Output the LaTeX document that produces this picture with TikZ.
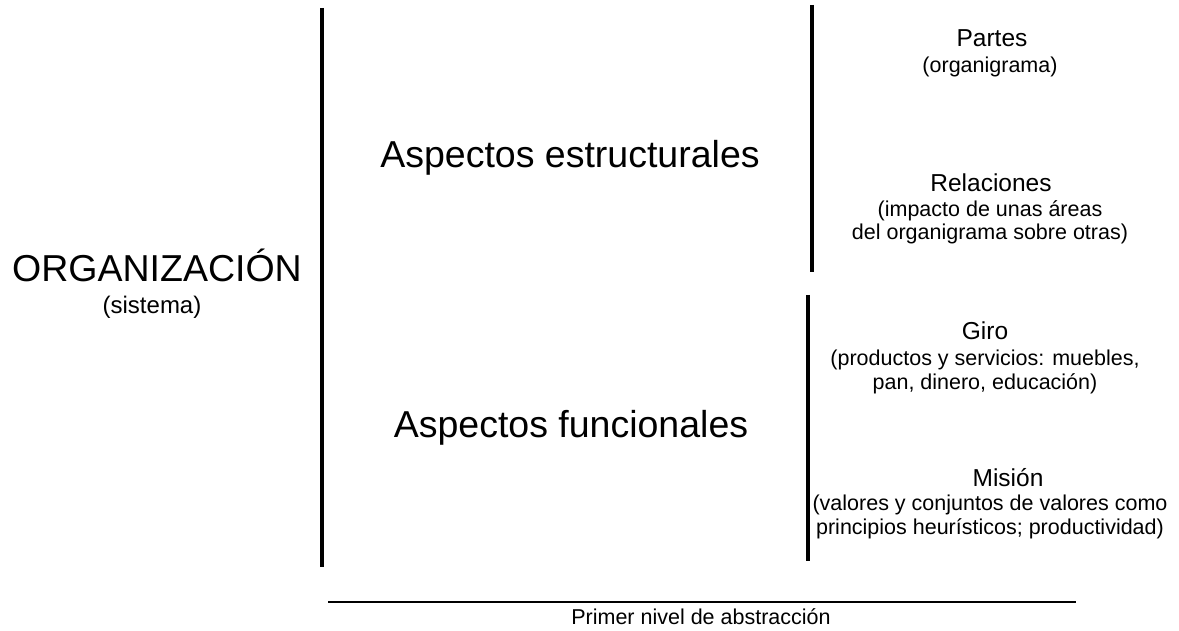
\documentclass[tikz,border=0pt]{standalone}
\usepackage{fontspec}
\setmainfont{Liberation Sans}
\begin{document}
\begin{tikzpicture}[x=1pt,y=-1pt,
  txt/.style={inner sep=0pt, anchor=base, align=center},
  huge/.style={txt, font=\fontsize{37.5}{45}\selectfont},
  big/.style={txt, font=\fontsize{37.5}{45}\selectfont},
  title/.style={txt, font=\fontsize{24.5}{29}\selectfont},
  sub/.style={txt, font=\fontsize{21.5}{24}\selectfont},
  vline/.style={line width=3.2pt},
  hline/.style={line width=1.5pt}]
\useasboundingbox (0,0) rectangle (1179,631);
% left column
\node[huge] (org) at (157,282) {ORGANIZACIÓN};
\node[sub, font=\fontsize{24}{28}\selectfont] (sis) at (152,314) {(sistema)};
% vertical lines
\coordinate (l1a) at (322,8);  \coordinate (l1b) at (322,567);
\coordinate (l2a) at (812,5);  \coordinate (l2b) at (812,272);
\coordinate (l3a) at (808,295); \coordinate (l3b) at (808,561);
\draw[vline] (l1a) -- (l1b);
\draw[vline] (l2a) -- (l2b);
\draw[vline] (l3a) -- (l3b);
% middle column
\node[big] (est) at (570,168) {Aspectos estructurales};
\node[big] (fun) at (571,437) {Aspectos funcionales};
% right column
\node[title] (par) at (992,47) {Partes};
\node[sub] (parb) at (990,73) {(organigrama)};
\node[title] (rel) at (991,192) {Relaciones};
\node[sub] (rel1) at (990,217) {(impacto de unas áreas};
\node[sub] (rel2) at (990,240) {del organigrama sobre otras)};
\node[title] (gir) at (985,340) {Giro};
\node[sub] (gir1) at (985,365) {(productos y servicios: muebles,};
\node[sub] (gir2) at (985,389) {pan, dinero, educación)};
\node[title] (mis) at (1008,486) {Misión};
\node[sub] (mis1) at (990,510) {(valores y conjuntos de valores como};
\node[sub] (mis2) at (990,534) {principios heurísticos; productividad)};
% bottom
\coordinate (ba) at (328,602); \coordinate (bb) at (1076,602);
\draw[hline] (ba) -- (bb);
\node[sub] (pri) at (701,624) {Primer nivel de abstracción};
\end{tikzpicture}
\end{document}
